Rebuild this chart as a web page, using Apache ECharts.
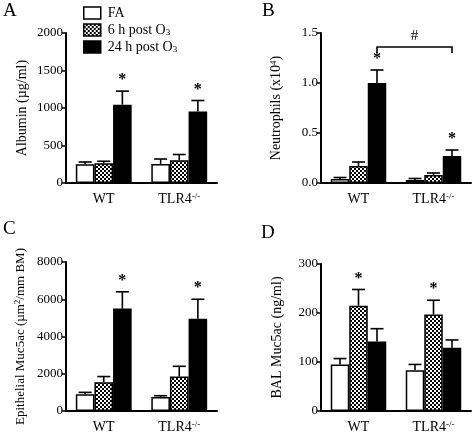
<!DOCTYPE html>
<html><head><meta charset="utf-8">
<script src="https://cdn.jsdelivr.net/npm/echarts@6/dist/echarts.min.js"></script>
<style>html,body{margin:0;padding:0;background:#fff}#c{width:473px;height:435px}</style>
</head><body><div id="c"></div>
<script>
// ---- data ----
const categories = ['WT', 'TLR4'];
const seriesNames = ['FA', '6 h post O3', '24 h post O3'];
// Panel A: Albumin (µg/ml)
const albFA = [250, 255], albFAerr = [280, 320];
const alb6h = [262, 305], alb6herr = [290, 380];
const alb24h = [1045, 955], alb24herr = [1225, 1100];
const albStars = [[0,0,1],[0,0,1]];
// Panel B: Neutrophils (x10^4)
const neuFA = [0.04, 0.03], neuFAerr = [0.055, 0.045];
const neu6h = [0.17, 0.08], neu6herr = [0.21, 0.10];
const neu24h = [1.0, 0.27], neu24herr = [1.13, 0.33];
const neuStars = [[0,0,1],[0,0,1]];
const neuBracket = [1.36, 1.30]; // bracket level, leg end
// Panel C: Epithelial Muc5ac
const epiFA = [900, 750], epiFAerr = [1000, 820];
const epi6h = [1550, 1850], epi6herr = [1850, 2400];
const epi24h = [5500, 4950], epi24herr = [6400, 6000];
const epiStars = [[0,0,1],[0,0,1]];
// Panel D: BAL Muc5ac (ng/ml)
const balFA = [95, 83], balFAerr = [107, 95];
const bal6h = [215, 197], bal6herr = [248, 226];
const bal24h = [142, 129], bal24herr = [168, 145];
const balStars = [[0,1,0],[0,1,0]];
// y-axis ticks
const yA = {min:0, max:2000, interval:500};
const yB = {min:0, max:1.5, interval:0.5};
const yC = {min:0, max:8000, interval:2000};
const yD = {min:0, max:300, interval:100};

// ---- style ----
const FONT = 'Liberation Serif';
const CAT_GAP = 0.26;
function makePattern(){
  const c = document.createElement('canvas'); c.width = 4; c.height = 4;
  const g = c.getContext('2d');
  g.fillStyle = '#000'; g.fillRect(0,0,4,4);
  g.fillStyle = '#fff'; g.fillRect(0,0,2,2); g.fillRect(2,2,2,2);
  return c;
}
const pattern = {image: makePattern(), repeat: 'repeat'};
const fills = ['#ffffff', pattern, '#000000'];

const chart = echarts.init(document.getElementById('c'), null, {renderer:'canvas'});

const grids = [
  {left:66, top:33, width:151, height:150},
  {left:321, top:33, width:150, height:150},
  {left:66, top:262, width:151, height:153},
  {left:321, top:264, width:150, height:151}
];
const yNames = ['Albumin (µg/ml)', 'Neutrophils (x10{sup|4})', 'Epithelial Muc5ac (µm{sup|2}/mm BM)', 'BAL Muc5ac (ng/ml)'];
const yNameSize = [14, 14, 13, 14];
const yRanges = [yA, yB, yC, yD];
const yDecimals = [0, 1, 0, 0];
const panels = [
  {m:[albFA, alb6h, alb24h], e:[albFAerr, alb6herr, alb24herr], s:albStars},
  {m:[neuFA, neu6h, neu24h], e:[neuFAerr, neu6herr, neu24herr], s:neuStars},
  {m:[epiFA, epi6h, epi24h], e:[epiFAerr, epi6herr, epi24herr], s:epiStars},
  {m:[balFA, bal6h, bal24h], e:[balFAerr, bal6herr, bal24herr], s:balStars}
];

const xAxes = [], yAxes = [], series = [];
grids.forEach((g, gi) => {
  xAxes.push({
    type:'category', gridIndex:gi, data:categories,
    axisLine:{lineStyle:{color:'#000', width:2}},
    axisTick:{alignWithLabel:true, length:4, lineStyle:{color:'#000', width:1.5}},
    axisLabel:{margin:9, color:'#000', interval:0, hideOverlap:false,
      formatter: v => v === 'TLR4' ? '{n|TLR4}{s|-/-}' : '{n|' + v + '}',
      rich:{n:{fontFamily:FONT, fontSize:14, color:'#000', lineHeight:15},
            s:{fontFamily:FONT, fontSize:9, color:'#000', verticalAlign:'top', lineHeight:15, padding:[0,0,6,0]}}}
  });
  const r = yRanges[gi];
  yAxes.push({
    type:'value', gridIndex:gi, min:r.min, max:r.max, interval:r.interval,
    name: yNames[gi], nameLocation:'middle', nameGap: gi===2 ? 38 : 37, nameRotate:90,
    nameTextStyle:{fontFamily:FONT, fontSize:yNameSize[gi], color:'#000',
      rich:{sup:{fontFamily:FONT, fontSize:9, color:'#000', verticalAlign:'top', padding:[0,0,6,0]}}},
    axisLine:{show:true, lineStyle:{color:'#000', width:2}},
    axisTick:{show:true, length:4, lineStyle:{color:'#000', width:1.5}},
    axisLabel:{fontFamily:FONT, fontSize:13, color:'#000', margin:3,
      formatter: v => v.toFixed(yDecimals[gi])},
    splitLine:{show:false}
  });
  const p = panels[gi];
  p.m.forEach((vals, si) => {
    series.push({
      type:'bar', name:seriesNames[si], xAxisIndex:gi, yAxisIndex:gi,
      data: vals, barGap:'0%', barCategoryGap:(CAT_GAP*100)+'%',
      itemStyle:{color:fills[si], borderColor:'#000', borderWidth:1.5},
      emphasis:{disabled:true}, animation:false
    });
  });
  const errData = [];
  p.m.forEach((vals, si) => vals.forEach((v, ci) => errData.push([ci, si, v, p.e[si][ci], p.s[ci][si]])));
  series.push({
    type:'custom', xAxisIndex:gi, yAxisIndex:gi, data:errData, animation:false, silent:true,
    encode:{x:0, y:3},
    renderItem:(params, api) => {
      const ci = api.value(0), si = api.value(1);
      const base = api.coord([ci, api.value(2)]);
      const top = api.coord([ci, api.value(3)]);
      const band = api.size([1,0])[0];
      const bw = band*(1-CAT_GAP)/3;
      const x = base[0] + (si-1)*bw;
      const cw = bw*0.35;
      const ch = [
        {type:'line', shape:{x1:x, y1:base[1], x2:x, y2:top[1]}, style:{stroke:'#000', lineWidth:1.6}},
        {type:'line', shape:{x1:x-cw, y1:top[1], x2:x+cw, y2:top[1]}, style:{stroke:'#000', lineWidth:1.6}}
      ];
      if (api.value(4)) ch.push({type:'text', x:x, y:top[1]-3,
        style:{text:'*', fontFamily:FONT, fontSize:16, fontWeight:'bold', fill:'#000', align:'center', verticalAlign:'bottom'}});
      return {type:'group', children:ch};
    }
  });
});
// bracket in panel B
series.push({
  type:'custom', xAxisIndex:1, yAxisIndex:1, data:[[0, 1, neuBracket[0], neuBracket[1]]],
  animation:false, silent:true, encode:{x:0, y:2},
  renderItem:(params, api) => {
    const a = api.coord([api.value(0), api.value(2)]);
    const b = api.coord([api.value(1), api.value(2)]);
    const leg = api.coord([0, api.value(3)])[1];
    const band = api.size([1,0])[0];
    const bw = band*(1-CAT_GAP)/3;
    const x1 = a[0] + bw, x2 = b[0] + bw;
    return {type:'group', children:[
      {type:'polyline', shape:{points:[[x1, leg],[x1, a[1]],[x2, a[1]],[x2, leg]]}, style:{stroke:'#000', lineWidth:1.6, fill:null}},
      {type:'text', x:(x1+x2)/2, y:a[1]-3, style:{text:'#', fontFamily:FONT, fontSize:15, fill:'#000', align:'center', verticalAlign:'bottom'}}
    ]};
  }
});

const option = {
  backgroundColor:'#fff',
  animation:false,
  grid: grids,
  xAxis: xAxes,
  yAxis: yAxes,
  legend:{
    data: seriesNames, orient:'vertical', left:83, top:6, padding:0, itemWidth:17, itemHeight:12, itemGap:3,
    selectedMode:false, icon:'rect',
    itemStyle:{borderColor:'#000', borderWidth:1.5},
    formatter: n => n.endsWith('O3') ? '{t|' + n.slice(0,-1) + '}{sub|3}' : '{t|' + n + '}',
    textStyle:{fontFamily:FONT, fontSize:14, color:'#000', padding:[0,0,0,2],
      rich:{t:{fontFamily:FONT, fontSize:14, color:'#000'}, sub:{fontFamily:FONT, fontSize:9, color:'#000', verticalAlign:'bottom', padding:[5,0,0,0]}}}
  },
  graphic:[
    {type:'text', left:3, top:2, style:{text:'A', fontFamily:FONT, fontSize:19, fill:'#000'}},
    {type:'text', left:262, top:2, style:{text:'B', fontFamily:FONT, fontSize:19, fill:'#000'}},
    {type:'text', left:3, top:220, style:{text:'C', fontFamily:FONT, fontSize:19, fill:'#000'}},
    {type:'text', left:261, top:224, style:{text:'D', fontFamily:FONT, fontSize:19, fill:'#000'}}
  ],
  series: series
};
chart.setOption(option);
</script></body></html>
